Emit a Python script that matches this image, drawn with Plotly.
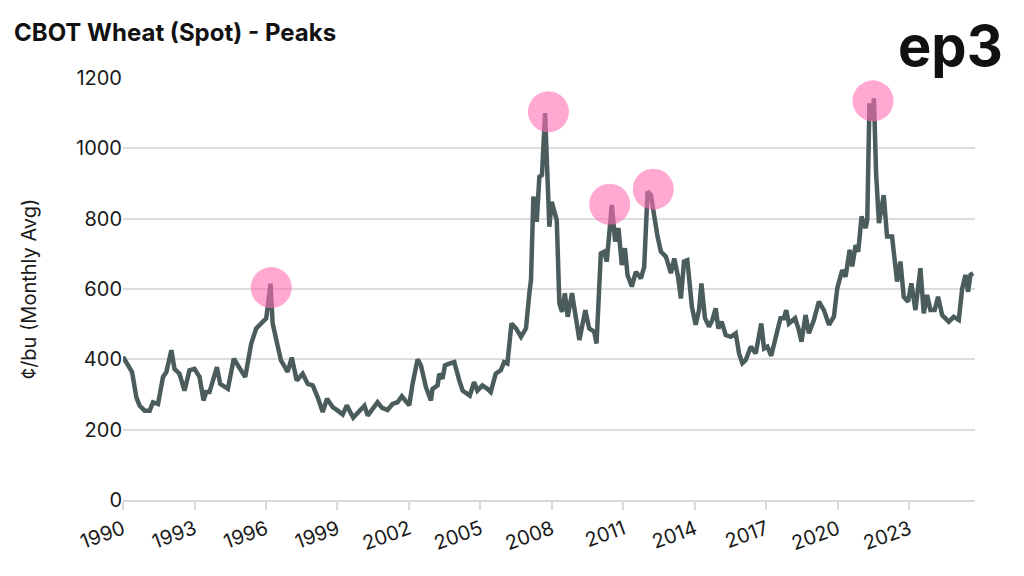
import plotly.graph_objects as go

years = [1990.00,1990.21,1990.38,1990.56,1990.70,1990.91,1991.12,1991.26,1991.47,1991.68,1991.82,1992.03,1992.16,1992.37,1992.58,1992.79,1993.00,1993.21,1993.38,1993.49,1993.63,1993.94,1994.08,1994.40,1994.65,1994.82,1995.13,1995.38,1995.59,1995.87,1996.01,1996.19,1996.28,1996.42,1996.63,1996.91,1997.08,1997.29,1997.54,1997.75,1997.96,1998.17,1998.38,1998.56,1998.80,1999.01,1999.22,1999.39,1999.66,1999.92,2000.13,2000.27,2000.47,2000.68,2000.87,2001.10,2001.31,2001.52,2001.70,2002.01,2002.15,2002.36,2002.50,2002.71,2002.92,2002.99,2003.20,2003.27,2003.41,2003.51,2003.69,2003.90,2004.11,2004.25,2004.55,2004.73,2004.87,2005.08,2005.29,2005.43,2005.64,2005.85,2005.99,2006.13,2006.30,2006.49,2006.70,2006.91,2007.05,2007.12,2007.22,2007.36,2007.47,2007.58,2007.71,2007.79,2007.89,2007.99,2008.10,2008.20,2008.31,2008.42,2008.54,2008.66,2008.84,2009.01,2009.15,2009.40,2009.56,2009.77,2009.87,2010.05,2010.19,2010.30,2010.43,2010.51,2010.65,2010.79,2010.93,2011.06,2011.17,2011.35,2011.52,2011.73,2011.87,2012.01,2012.15,2012.29,2012.43,2012.57,2012.78,2012.99,2013.13,2013.29,2013.41,2013.54,2013.68,2013.87,2014.03,2014.17,2014.27,2014.42,2014.59,2014.73,2014.87,2014.98,2015.12,2015.29,2015.50,2015.71,2015.85,2015.99,2016.13,2016.34,2016.55,2016.78,2016.90,2017.04,2017.20,2017.43,2017.59,2017.73,2017.83,2017.94,2018.20,2018.36,2018.47,2018.64,2018.78,2018.99,2019.20,2019.41,2019.62,2019.83,2019.97,2020.18,2020.32,2020.49,2020.60,2020.74,2020.85,2020.99,2021.16,2021.23,2021.32,2021.41,2021.51,2021.60,2021.72,2021.92,2022.06,2022.27,2022.39,2022.48,2022.62,2022.76,2022.94,2023.08,2023.25,2023.46,2023.60,2023.74,2023.88,2024.06,2024.20,2024.37,2024.65,2024.86,2025.07,2025.21,2025.35,2025.46,2025.56,2025.67]
prices = [407,383,364,292,268,254,254,278,273,350,364,426,373,359,311,369,373,350,283,307,307,378,330,316,402,383,350,445,488,507,516,615,502,459,397,364,405,340,359,330,326,292,250,288,264,254,243,269,234,253,268,240,259,278,262,256,273,278,295,269,330,400,383,321,283,316,326,359,345,383,388,392,340,311,297,335,311,326,316,307,359,369,392,388,502,488,464,488,588,626,863,791,919,924,1100,957,777,848,820,796,559,535,588,521,588,517,455,540,488,479,445,701,706,678,777,839,735,773,668,716,640,607,649,630,663,877,867,806,749,706,692,645,687,635,573,678,682,550,498,540,616,517,493,512,545,488,507,469,464,474,417,389,398,436,417,502,431,436,410,474,517,517,540,502,517,483,450,526,474,512,564,540,498,521,602,654,635,711,664,725,706,806,773,796,1128,1081,1142,929,787,867,749,749,678,621,678,578,564,616,540,659,531,583,540,540,578,526,507,521,512,600,640,592,640,645]

peak_years = [1996.22, 2007.85, 2010.42, 2012.25, 2021.47]
peak_values = [604, 1104, 841, 884, 1135]

tick_vals = [1990,1993,1996,1999,2002,2005,2008,2011,2014,2017,2020,2023]
tick_text = [str(t) for t in tick_vals]

fig = go.Figure()
fig.add_trace(go.Scatter(x=years, y=prices, mode="lines",
                         line=dict(color="#4a5c5c", width=4.5), hoverinfo="skip"))
fig.add_trace(go.Scatter(x=peak_years, y=peak_values, mode="markers",
                         marker=dict(size=41, color="rgba(255,110,180,0.6)", line=dict(width=0)),
                         hoverinfo="skip"))

fig.update_layout(
    width=1024, height=576, showlegend=False,
    paper_bgcolor="white", plot_bgcolor="white",
    margin=dict(l=115, r=57, t=70, b=84),
    font=dict(family="Inter, Lato, sans-serif", color="#1a1a1a"),
    xaxis=dict(range=[1990, 2025.75], tickvals=tick_vals, ticktext=tick_text,
               tickangle=-20, tickfont=dict(size=20), showgrid=False, zeroline=False,
               showline=True, linecolor="#d9d9d9", linewidth=2,
               ticks="outside", tickcolor="#d9d9d9", ticklen=8, tickwidth=2),
    yaxis=dict(range=[0, 1200], dtick=200, tickfont=dict(size=20),
               gridcolor="#dddddd", gridwidth=1.5, zeroline=False,
               title=dict(text="¢/bu (Monthly Avg)", font=dict(size=20), standoff=34)),
)
fig.add_annotation(text="<b>CBOT Wheat (Spot) - Peaks</b>", xref="paper", yref="paper",
                   x=-0.130, y=1.109, xanchor="left", yanchor="middle", showarrow=False,
                   font=dict(size=24, color="#111111"))
fig.add_annotation(text="<b>ep3</b>", xref="paper", yref="paper",
                   x=1.035, y=1.075, xanchor="right", yanchor="middle", showarrow=False,
                   font=dict(size=56, color="#111111"))
fig.write_html("out.html")
